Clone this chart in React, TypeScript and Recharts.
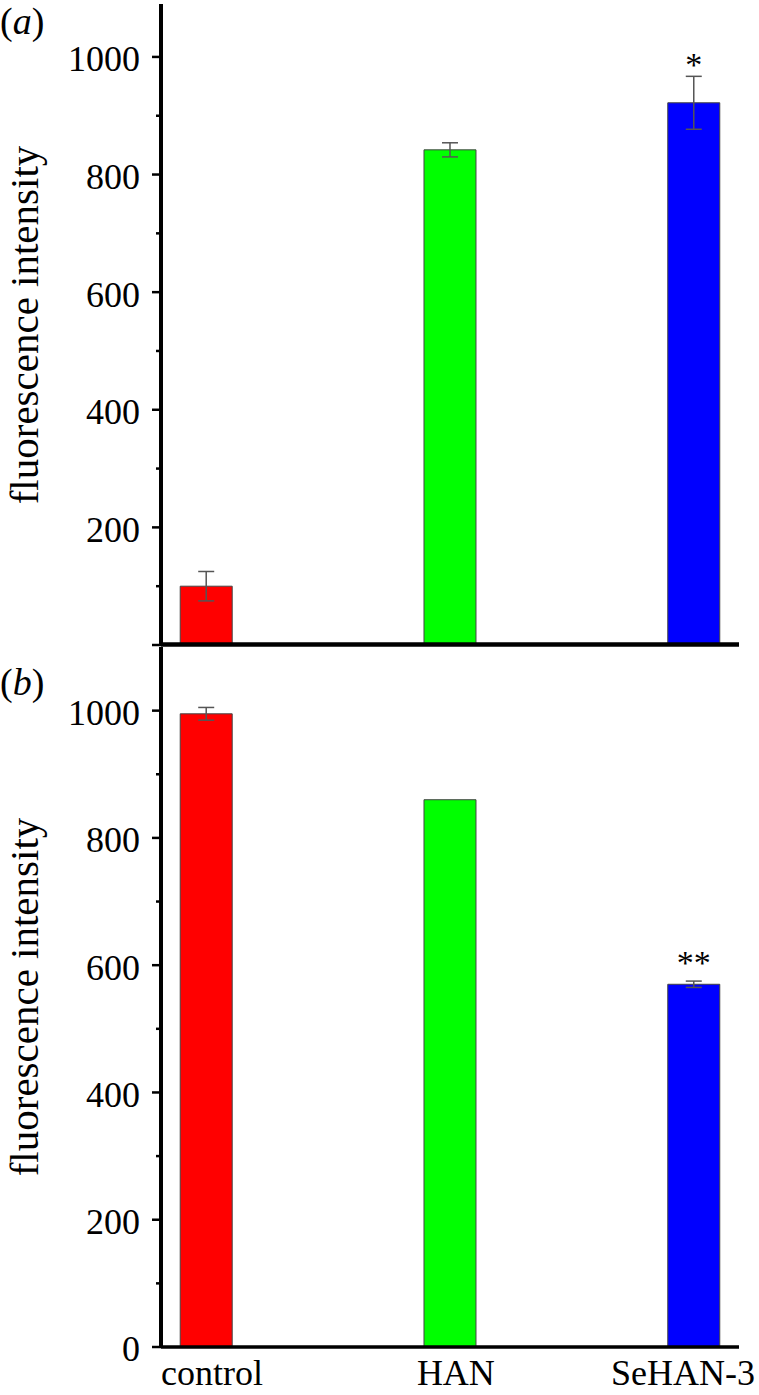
import { BarChart, Bar, XAxis, YAxis, ErrorBar, Cell, LabelList } from "recharts";

const categories = ["control", "HAN", "SeHAN-3"];
const xPos = [0, 1, 2];
const colors = ["#ff0000", "#00ff00", "#0000ff"];

// panel (a)
const valuesA = [100, 842, 922];
const errorsA = [25, 12, 45];
const marksA = ["", "", "*"];

// panel (b)
const valuesB = [995, 860, 570];
const errorsB = [10, 0, 5];
const marksB = ["", "", "**"];

const yTicks = [0, 100, 200, 300, 400, 500, 600, 700, 800, 900, 1000];

const SERIF = "'Liberation Serif', 'Times New Roman', serif";

const buildData = (vals: number[], errs: number[], marks: string[]) =>
  xPos.map((x, i) => ({ x, v: vals[i], e: errs[i], m: marks[i] }));

const dataA = buildData(valuesA, errorsA, marksA);
const dataB = buildData(valuesB, errorsB, marksB);

function YTick(props: any) {
  const { x, y, payload, hideZero } = props;
  const v = payload.value;
  const major = v % 200 === 0;
  const showLabel = major && !(hideZero && v === 0);
  return (
    <g>
      <line x1={x - (major ? 9 : 5)} x2={x} y1={y} y2={y} stroke="#000" strokeWidth={2.5} />
      {showLabel && (
        <text x={x - 21} y={y} dy="0.4em" textAnchor="end" fontFamily={SERIF} fontSize={36} fill="#000">
          {v}
        </text>
      )}
    </g>
  );
}

function XTick(props: any) {
  const { x, y, payload, index } = props;
  const last = index === categories.length - 1;
  return (
    <text
      x={last ? 755 : x + 6}
      y={y + 38}
      textAnchor={last ? "end" : "middle"}
      fontFamily={SERIF}
      fontSize={36}
      fill="#000"
    >
      {categories[payload.value]}
    </text>
  );
}

const markLabel = (lift: number) => (props: any) => {
  const { x, y, width, value } = props;
  if (!value) return null;
  return (
    <text x={x + width / 2} y={y - lift} textAnchor="middle" fontFamily={SERIF} fontSize={34} fill="#000">
      {value}
    </text>
  );
};

function Panel({ data, top, height, margin, yMax, hideZero, showX, lift }: any) {
  return (
    <div style={{ position: "absolute", left: 0, top }}>
      <BarChart width={759} height={height} data={data} margin={margin}>
        <XAxis
          type="number"
          dataKey="x"
          domain={[-0.185, 2.186]}
          allowDataOverflow
          ticks={xPos}
          interval={0}
          height={showX ? 48 : 2}
          tickSize={0}
          tickMargin={0}
          tickLine={false}
          tick={showX ? <XTick /> : false}
          axisLine={{ stroke: "#000", strokeWidth: 3.5 }}
        />
        <YAxis
          type="number"
          domain={[0, yMax]}
          allowDataOverflow
          ticks={yTicks}
          interval={0}
          width={161}
          tickSize={0}
          tickMargin={0}
          tickLine={false}
          tick={<YTick hideZero={hideZero} />}
          axisLine={{ stroke: "#000", strokeWidth: 4 }}
        />
        <Bar dataKey="v" barSize={52} stroke="#444" strokeWidth={1} isAnimationActive={false}>
          {data.map((_: any, i: number) => (
            <Cell key={i} fill={colors[i]} />
          ))}
          <ErrorBar dataKey="e" width={8} stroke="#555" strokeWidth={1.5} direction="y" />
          <LabelList dataKey="m" content={markLabel(lift)} />
        </Bar>
      </BarChart>
    </div>
  );
}

export default function App() {
  return (
    <div style={{ position: "absolute", left: 0, top: 0, width: 759, height: 1395, background: "#fff" }}>
      <Panel
        data={dataA}
        top={0}
        height={660}
        margin={{ top: 4, right: 20, left: 0, bottom: 13 }}
        yMax={1090}
        hideZero
        showX={false}
        lift={27}
      />
      <Panel
        data={dataB}
        top={600}
        height={795}
        margin={{ top: 47, right: 20, left: 0, bottom: 0 }}
        yMax={1100}
        hideZero={false}
        showX
        lift={10}
      />
      <svg width={759} height={1395} style={{ position: "absolute", left: 0, top: 0, pointerEvents: "none" }}>
        <line x1={161} x2={739} y1={644} y2={644} stroke="#000" strokeWidth={3.5} />
        <text x={0} y={34} fontFamily={SERIF} fontSize={38} fill="#000">
          (<tspan fontStyle="italic">a</tspan>)
        </text>
        <text x={0} y={695} fontFamily={SERIF} fontSize={38} fill="#000">
          (<tspan fontStyle="italic">b</tspan>)
        </text>
        <text
          x={38}
          y={325}
          transform="rotate(-90 38 325)"
          textAnchor="middle"
          fontFamily={SERIF}
          fontSize={41}
          fill="#000"
        >
          fluorescence intensity
        </text>
        <text
          x={38}
          y={997}
          transform="rotate(-90 38 997)"
          textAnchor="middle"
          fontFamily={SERIF}
          fontSize={41}
          fill="#000"
        >
          fluorescence intensity
        </text>
      </svg>
    </div>
  );
}
